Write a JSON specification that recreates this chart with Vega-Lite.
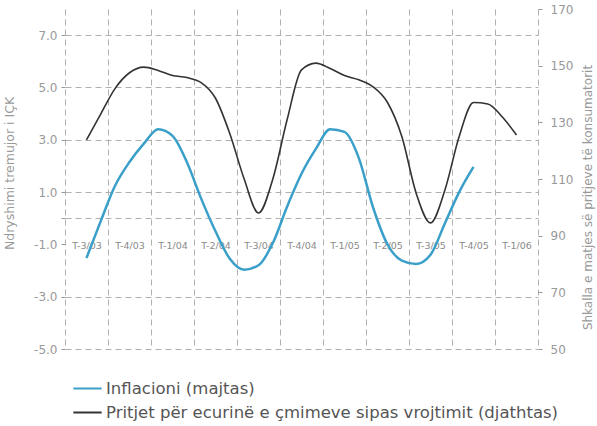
{
  "$schema": "https://vega.github.io/schema/vega-lite/v6.json",
  "width": 473,
  "height": 340,
  "autosize": "none",
  "padding": {"left": 65, "top": 9, "right": 59, "bottom": 77},
  "background": "white",
  "config": {
    "view": {"stroke": null},
    "font": "DejaVu Sans",
    "axis": {"labelFont": "DejaVu Sans", "titleFont": "DejaVu Sans"}
  },
  "datasets": {
    "rows": [
      {"series": "Inflacioni (majtas)", "m": 0, "value": -1.52},
      {"series": "Inflacioni (majtas)", "m": 1, "value": -0.1},
      {"series": "Inflacioni (majtas)", "m": 2, "value": 1.25},
      {"series": "Inflacioni (majtas)", "m": 3, "value": 2.15},
      {"series": "Inflacioni (majtas)", "m": 4, "value": 2.85},
      {"series": "Inflacioni (majtas)", "m": 5, "value": 3.4},
      {"series": "Inflacioni (majtas)", "m": 6, "value": 3.15},
      {"series": "Inflacioni (majtas)", "m": 7, "value": 2.15},
      {"series": "Inflacioni (majtas)", "m": 8, "value": 0.75},
      {"series": "Inflacioni (majtas)", "m": 9, "value": -0.5},
      {"series": "Inflacioni (majtas)", "m": 10, "value": -1.55},
      {"series": "Inflacioni (majtas)", "m": 11, "value": -1.97},
      {"series": "Inflacioni (majtas)", "m": 12, "value": -1.8},
      {"series": "Inflacioni (majtas)", "m": 13, "value": -0.95},
      {"series": "Inflacioni (majtas)", "m": 14, "value": 0.45},
      {"series": "Inflacioni (majtas)", "m": 15, "value": 1.7},
      {"series": "Inflacioni (majtas)", "m": 16, "value": 2.65},
      {"series": "Inflacioni (majtas)", "m": 17, "value": 3.4},
      {"series": "Inflacioni (majtas)", "m": 18, "value": 3.3},
      {"series": "Inflacioni (majtas)", "m": 19, "value": 2.3},
      {"series": "Inflacioni (majtas)", "m": 20, "value": 0.4},
      {"series": "Inflacioni (majtas)", "m": 21, "value": -1.0},
      {"series": "Inflacioni (majtas)", "m": 22, "value": -1.62},
      {"series": "Inflacioni (majtas)", "m": 23, "value": -1.75},
      {"series": "Inflacioni (majtas)", "m": 24, "value": -1.4},
      {"series": "Inflacioni (majtas)", "m": 25, "value": -0.2},
      {"series": "Inflacioni (majtas)", "m": 26, "value": 1.0},
      {"series": "Inflacioni (majtas)", "m": 27, "value": 1.96},
      {"series": "Pritjet për ecurinë e çmimeve sipas vrojtimit (djathtas)", "m": 0, "value": 123.8},
      {"series": "Pritjet për ecurinë e çmimeve sipas vrojtimit (djathtas)", "m": 1, "value": 133},
      {"series": "Pritjet për ecurinë e çmimeve sipas vrojtimit (djathtas)", "m": 2, "value": 142},
      {"series": "Pritjet për ecurinë e çmimeve sipas vrojtimit (djathtas)", "m": 3, "value": 147.5},
      {"series": "Pritjet për ecurinë e çmimeve sipas vrojtimit (djathtas)", "m": 4, "value": 149.5},
      {"series": "Pritjet për ecurinë e çmimeve sipas vrojtimit (djathtas)", "m": 5, "value": 148.3},
      {"series": "Pritjet për ecurinë e çmimeve sipas vrojtimit (djathtas)", "m": 6, "value": 146.5},
      {"series": "Pritjet për ecurinë e çmimeve sipas vrojtimit (djathtas)", "m": 7, "value": 145.8},
      {"series": "Pritjet për ecurinë e çmimeve sipas vrojtimit (djathtas)", "m": 8, "value": 144},
      {"series": "Pritjet për ecurinë e çmimeve sipas vrojtimit (djathtas)", "m": 9, "value": 138.5},
      {"series": "Pritjet për ecurinë e çmimeve sipas vrojtimit (djathtas)", "m": 10, "value": 126},
      {"series": "Pritjet për ecurinë e çmimeve sipas vrojtimit (djathtas)", "m": 11, "value": 110},
      {"series": "Pritjet për ecurinë e çmimeve sipas vrojtimit (djathtas)", "m": 12, "value": 98},
      {"series": "Pritjet për ecurinë e çmimeve sipas vrojtimit (djathtas)", "m": 13, "value": 110},
      {"series": "Pritjet për ecurinë e çmimeve sipas vrojtimit (djathtas)", "m": 14, "value": 131},
      {"series": "Pritjet për ecurinë e çmimeve sipas vrojtimit (djathtas)", "m": 15, "value": 148.5},
      {"series": "Pritjet për ecurinë e çmimeve sipas vrojtimit (djathtas)", "m": 16, "value": 150.9},
      {"series": "Pritjet për ecurinë e çmimeve sipas vrojtimit (djathtas)", "m": 17, "value": 149},
      {"series": "Pritjet për ecurinë e çmimeve sipas vrojtimit (djathtas)", "m": 18, "value": 146.5},
      {"series": "Pritjet për ecurinë e çmimeve sipas vrojtimit (djathtas)", "m": 19, "value": 145},
      {"series": "Pritjet për ecurinë e çmimeve sipas vrojtimit (djathtas)", "m": 20, "value": 142.5},
      {"series": "Pritjet për ecurinë e çmimeve sipas vrojtimit (djathtas)", "m": 21, "value": 137},
      {"series": "Pritjet për ecurinë e çmimeve sipas vrojtimit (djathtas)", "m": 22, "value": 125},
      {"series": "Pritjet për ecurinë e çmimeve sipas vrojtimit (djathtas)", "m": 23, "value": 105},
      {"series": "Pritjet për ecurinë e çmimeve sipas vrojtimit (djathtas)", "m": 24, "value": 94.5},
      {"series": "Pritjet për ecurinë e çmimeve sipas vrojtimit (djathtas)", "m": 25, "value": 106},
      {"series": "Pritjet për ecurinë e çmimeve sipas vrojtimit (djathtas)", "m": 26, "value": 125},
      {"series": "Pritjet për ecurinë e çmimeve sipas vrojtimit (djathtas)", "m": 27, "value": 137},
      {"series": "Pritjet për ecurinë e çmimeve sipas vrojtimit (djathtas)", "m": 28, "value": 136.5},
      {"series": "Pritjet për ecurinë e çmimeve sipas vrojtimit (djathtas)", "m": 29, "value": 132},
      {"series": "Pritjet për ecurinë e çmimeve sipas vrojtimit (djathtas)", "m": 30, "value": 125.5}
    ]
  },
  "data": {"name": "rows"},
  "layer": [
    {
      "transform": [{"filter": "datum.series === 'Inflacioni (majtas)'"}],
      "mark": {"type": "line", "interpolate": "monotone", "strokeWidth": 2.5},
      "encoding": {
        "x": {
          "field": "m", "type": "quantitative",
          "scale": {"domain": [-1.5, 31.5], "nice": false, "zero": false},
          "axis": {
            "orient": "bottom",
            "values": [-1.5, 1.5, 4.5, 7.5, 10.5, 13.5, 16.5, 19.5, 22.5, 25.5, 28.5, 31.5],
            "labels": false, "ticks": false, "domain": false, "title": null,
            "grid": true, "gridColor": "#b0b0b0", "gridDash": [6, 4], "gridWidth": 1
          }
        },
        "y": {
          "field": "value", "type": "quantitative",
          "scale": {"domain": [-5, 8], "nice": false, "zero": false},
          "axis": {
            "orient": "left",
            "values": [-5, -3, -1, 0, 1, 3, 5, 7],
            "labelExpr": "datum.value === 0 ? '' : replace(format(datum.value, '.1f'), '\u2212', '-')",
            "labelFontSize": 12, "labelColor": "#999999", "labelPadding": 4,
            "ticks": true, "tickSize": 4, "tickColor": "#999", "domain": false,
            "grid": true, "gridColor": "#b0b0b0", "gridDash": [6, 4], "gridWidth": 1,
            "gridOpacity": {"condition": {"test": "datum.value === -1", "value": 0}, "value": 1},
            "title": "Ndryshimi tremujor i IÇK",
            "titleFontSize": 12.5, "titleFontWeight": "normal", "titleColor": "#999999",
            "titleAngle": 270, "titleX": -56, "titleY": 164,
            "titleAlign": "center", "titleBaseline": "middle"
          }
        },
        "color": {
          "field": "series", "type": "nominal",
          "scale": {
            "domain": ["Inflacioni (majtas)", "Pritjet për ecurinë e çmimeve sipas vrojtimit (djathtas)"],
            "range": ["#3a9fc9", "#333333"]
          },
          "legend": {
            "orient": "none", "legendX": 7, "legendY": 364,
            "title": null, "symbolType": "stroke", "symbolSize": 800,
            "symbolStrokeWidth": 2, "labelFontSize": 16.5, "labelColor": "#555",
            "labelFont": "DejaVu Sans", "rowPadding": 0, "labelOffset": 3,
            "labelLimit": 600
          }
        }
      }
    },
    {
      "transform": [{"filter": "datum.series !== 'Inflacioni (majtas)'"}],
      "mark": {"type": "line", "interpolate": "monotone", "strokeWidth": 1.6},
      "encoding": {
        "x": {
          "field": "m", "type": "quantitative",
          "axis": {
            "orient": "bottom",
            "values": [0, 3, 6, 9, 12, 15, 18, 21, 24, 27, 30],
            "labelExpr": "['T-3/03','T-4/03','T-1/04','T-2/04','T-3/04','T-4/04','T-1/05','T-2/05','T-3/05','T-4/05','T-1/06'][round(datum.value/3)]",
            "labelFont": "DejaVu Sans", "labelFontSize": 9.5, "labelColor": "#8a8a8a",
            "labelBaseline": "middle", "labelPadding": 0, "labelOverlap": false, "labelBound": false,
            "labelFlush": false,
            "offset": -104, "ticks": false, "domain": false, "grid": false, "title": null
          }
        },
        "y": {
          "field": "value", "type": "quantitative",
          "scale": {"domain": [50, 170], "nice": false, "zero": false},
          "axis": {
            "orient": "right",
            "values": [50, 70, 90, 110, 130, 150, 170],
            "labelFontSize": 12, "labelColor": "#999999", "labelPadding": 8,
            "ticks": true, "tickSize": 4, "tickColor": "#999", "domain": false, "grid": false,
            "title": "Shkalla e matjes së pritjeve të konsumatorit",
            "titleAngle": 270, "titleFontSize": 12, "titleFontWeight": "normal",
            "titleColor": "#999999", "titleX": 49, "titleY": 188,
            "titleAlign": "center", "titleBaseline": "middle"
          }
        },
        "color": {"field": "series", "type": "nominal"}
      }
    }
  ],
  "resolve": {"scale": {"y": "independent"}, "axis": {"x": "independent"}}
}
